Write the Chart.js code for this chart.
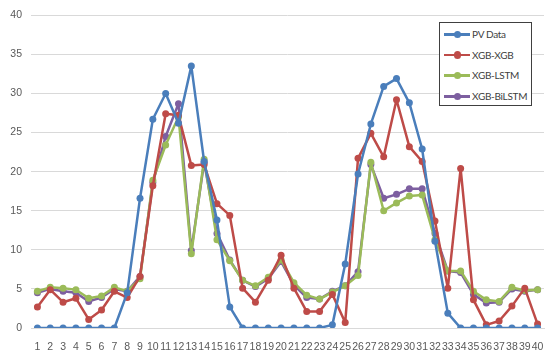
<!DOCTYPE html>
<html>
<head>
<meta charset="utf-8">
<script src="https://cdn.jsdelivr.net/npm/chart.js@4"></script>
<style>
  html, body { margin: 0; padding: 0; background: #fff; }
  #wrap { position: relative; width: 550px; height: 352px; }
  #legend {
    position: absolute; left: 439px; top: 22px; width: 93px; height: 84px;
    border: 1px solid #404040; background: #fff; box-sizing: border-box;
    font-family: Lato, "Open Sans", sans-serif; font-size: 10px; letter-spacing: -0.3px; color: #404040;
    padding-top: 1px; white-space: nowrap;
  }
  .item { display: flex; align-items: center; height: 20.6px; }
  .swatch { position: relative; width: 26px; height: 14px; margin-left: 4px; margin-right: 2px; flex: none; }
  .swatch .ln { position: absolute; left: 0; right: 0; top: 6px; height: 2.5px; }
  .swatch .dot { position: absolute; left: 9.5px; top: 3.5px; width: 7.5px; height: 7.5px; border-radius: 50%; }
</style>
</head>
<body>
<div id="wrap">
  <canvas id="chart" width="550" height="352"></canvas>
  <div id="legend"></div>
</div>
<script>
// Categories (time steps)
const labels = [];
for (let i = 1; i <= 40; i++) labels.push(String(i));

// Series values
const pvData = [0, 0, 0, 0, 0, 0, 0, 4.5, 16.6, 26.7, 30.0, 26.2, 33.5, 21.3, 13.8, 2.7, 0, 0, 0, 0,
                0, 0, 0, 0.4, 8.2, 19.7, 26.1, 30.9, 31.9, 28.8, 22.9, 11.1, 1.9, 0, 0, 0, 0, 0, 0, 0];
const xgbXgb = [2.7, 4.9, 3.3, 3.8, 1.1, 2.3, 4.7, 3.9, 6.6, 18.2, 27.4, 27.2, 20.8, 20.9, 15.9, 14.4, 5.1, 3.3, 6.1, 9.3,
                5.1, 2.1, 2.1, 4.3, 0.7, 21.7, 24.9, 21.9, 29.2, 23.2, 21.3, 13.7, 5.1, 20.4, 3.6, 0.4, 0.9, 2.8, 5.1, 0.5];
const xgbLstm = [4.7, 5.2, 5.1, 4.9, 3.8, 4.1, 5.2, 4.7, 6.3, 18.9, 23.4, 27.0, 9.5, 21.6, 11.3, 8.6, 6.1, 5.4, 6.5, 8.7,
                 5.8, 4.2, 3.7, 4.6, 5.4, 6.7, 21.2, 15.0, 16.0, 16.9, 17.0, 11.3, 7.3, 7.3, 4.7, 3.6, 3.4, 5.2, 4.8, 4.9];
const xgbBiLstm = [4.5, 5.0, 4.7, 4.5, 3.4, 3.9, 5.0, 4.7, 6.6, 18.6, 24.5, 28.7, 9.9, 21.2, 12.1, 8.7, 6.1, 5.3, 6.3, 8.5,
                   5.5, 3.9, 3.7, 4.7, 5.4, 7.2, 20.9, 16.6, 17.1, 17.8, 17.8, 12.1, 7.3, 7.1, 4.3, 3.2, 3.3, 5.0, 4.7, 4.9];

const seriesNames = ['PV Data', 'XGB-XGB', 'XGB-LSTM', 'XGB-BiLSTM'];
const seriesColors = ['#4A7EBB', '#BE4B48', '#9BBB59', '#7D5FA0'];
const seriesValues = [pvData, xgbXgb, xgbLstm, xgbBiLstm];

const tickFont = { family: '"Liberation Sans", Arial, sans-serif', size: 10.5 };

function makeDataset(i) {
    return {
        label: seriesNames[i],
        data: seriesValues[i],
        borderColor: seriesColors[i],
        backgroundColor: seriesColors[i],
        borderWidth: 2.5,
        borderJoinStyle: 'round',
        borderCapStyle: 'round',
        pointRadius: 3.5,
        pointBorderWidth: 0,
        pointBackgroundColor: seriesColors[i],
        tension: 0,
        fill: false,
        order: i
    };
}

new Chart(document.getElementById('chart').getContext('2d'), {
    type: 'line',
    data: {
        labels: labels,
        datasets: seriesNames.map((n, i) => makeDataset(i))
    },
    options: {
        responsive: false,
        animation: false,
        devicePixelRatio: 1,
        layout: { padding: { top: 10, right: 6, left: 0, bottom: 0 } },
        plugins: {
            legend: { display: false },
            tooltip: { enabled: false }
        },
        scales: {
            y: {
                min: 0,
                max: 40,
                ticks: { stepSize: 5, color: '#595959', font: tickFont, padding: 9 },
                grid: { color: '#D9D9D9', lineWidth: 1, drawTicks: false },
                border: { display: false },
                afterFit: function(scale) { scale.width = 31; }
            },
            x: {
                offset: true,
                ticks: { color: '#595959', font: tickFont, maxRotation: 0, autoSkip: false, padding: 5 },
                grid: { display: false },
                border: { display: true, color: '#D9D9D9' },
                afterFit: function(scale) { scale.height = 24; }
            }
        }
    }
});

// HTML legend built from the same series arrays
const legend = document.getElementById('legend');
seriesNames.forEach((name, i) => {
    const item = document.createElement('div');
    item.className = 'item';
    item.innerHTML = '<span class="swatch"><span class="ln" style="background:' + seriesColors[i] +
        '"></span><span class="dot" style="background:' + seriesColors[i] + '"></span></span><span>' + name + '</span>';
    legend.appendChild(item);
});
</script>
</body>
</html>
